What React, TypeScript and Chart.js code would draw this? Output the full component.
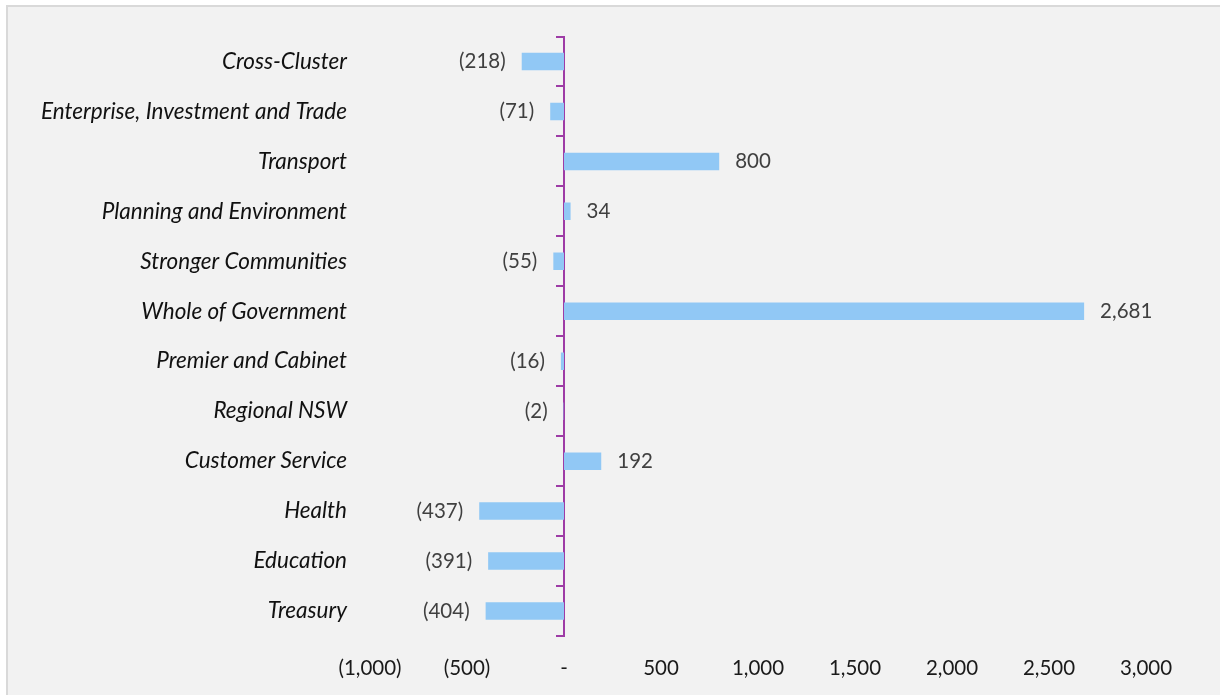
import React, { useEffect, useRef } from "react";
import { Chart, registerables } from "chart.js";

Chart.register(...registerables);

const categories = [
  "Cross-Cluster",
  "Enterprise, Investment and Trade",
  "Transport",
  "Planning and Environment",
  "Stronger Communities",
  "Whole of Government",
  "Premier and Cabinet",
  "Regional NSW",
  "Customer Service",
  "Health",
  "Education",
  "Treasury",
];
const values = [-218, -71, 800, 34, -55, 2681, -16, -2, 192, -437, -391, -404];
const xTickValues = [-1000, -500, 0, 500, 1000, 1500, 2000, 2500, 3000];

const FONT = "Lato";
const FONT_SIZE = 20.5;
const LABEL_FONT_SIZE = 22.5;
const BAR_COLOR = "#91C8F5";
const AXIS_COLOR = "#9E3CA6";

function fmt(v: number): string {
  if (v === 0) return "-";
  const s = Math.abs(v).toLocaleString("en-US");
  return v < 0 ? `(${s})` : s;
}

const dataLabels = {
  id: "dataLabels",
  afterDatasetsDraw(chart: any) {
    const ctx = chart.ctx;
    const meta = chart.getDatasetMeta(0);
    ctx.save();
    ctx.font = `${FONT_SIZE}px ${FONT}`;
    ctx.fillStyle = "#404040";
    ctx.textBaseline = "middle";
    meta.data.forEach((bar: any, i: number) => {
      const v = values[i];
      const { x, y, base } = bar.getProps(["x", "y", "base"], true);
      if (v < 0) {
        ctx.textAlign = "right";
        ctx.fillText(fmt(v), Math.min(x, base) - 16, y);
      } else {
        ctx.textAlign = "left";
        ctx.fillText(fmt(v), Math.max(x, base) + 16, y);
      }
    });
    ctx.restore();
  },
};

export default function App() {
  const ref = useRef<HTMLCanvasElement | null>(null);

  useEffect(() => {
    document.body.style.margin = "0";
    const canvas = ref.current;
    if (!canvas) return;
    const chart = new Chart(canvas, {
      type: "bar",
      data: {
        labels: categories,
        datasets: [
          {
            data: values,
            backgroundColor: BAR_COLOR,
            borderWidth: 0,
            barPercentage: 0.35,
            categoryPercentage: 1,
            yAxisID: "y",
          },
        ],
      },
      options: {
        indexAxis: "y",
        responsive: false,
        animation: false,
        devicePixelRatio: 1,
        layout: { padding: { top: 35, right: 74, left: 0, bottom: 0 } },
        plugins: {
          legend: { display: false },
          tooltip: { enabled: false },
        },
        scales: {
          x: {
            type: "linear",
            min: -1000,
            max: 3000,
            afterBuildTicks: (s: any) => {
              s.ticks = xTickValues.map((v) => ({ value: v }));
            },
            afterFit: (s: any) => {
              s.height = 59;
            },
            grid: { display: false, drawTicks: false },
            border: { display: false },
            ticks: {
              padding: 20,
              color: "#1a1a1a",
              font: { family: FONT, size: FONT_SIZE },
              callback: (v: any) => fmt(Number(v)),
              maxRotation: 0,
              autoSkip: false,
            },
          },
          y: {
            type: "category",
            position: "left",
            offset: true,
            afterFit: (s: any) => {
              s.width = 370;
            },
            grid: { display: false, drawTicks: false, offset: true },
            border: { display: false },
            ticks: {
              padding: 23,
              color: "#111111",
              font: { family: FONT, size: LABEL_FONT_SIZE, style: "italic" },
              autoSkip: false,
            },
          },
          y2: {
            type: "category",
            axis: "y",
            position: { x: 0 },
            offset: true,
            grid: {
              display: true,
              drawOnChartArea: false,
              drawTicks: true,
              tickLength: 7,
              offset: true,
              color: AXIS_COLOR,
              lineWidth: 2,
            },
            border: { display: true, color: AXIS_COLOR, width: 2 },
            ticks: { display: false },
          },
        },
      },
      plugins: [dataLabels],
    } as any);
    return () => chart.destroy();
  }, []);

  return (
    <div style={{ position: "fixed", left: 0, top: 0, width: 1220, height: 695, background: "#ffffff", overflow: "hidden" }}>
      <div
        style={{
          position: "absolute",
          left: 6,
          top: 5,
          right: 0,
          bottom: 0,
          background: "#f2f2f2",
          borderTop: "2px solid #d9d9d9",
          borderLeft: "2px solid #d9d9d9",
        }}
      />
      <canvas ref={ref} width={1220} height={695} style={{ position: "absolute", left: 0, top: 0 }} />
    </div>
  );
}
